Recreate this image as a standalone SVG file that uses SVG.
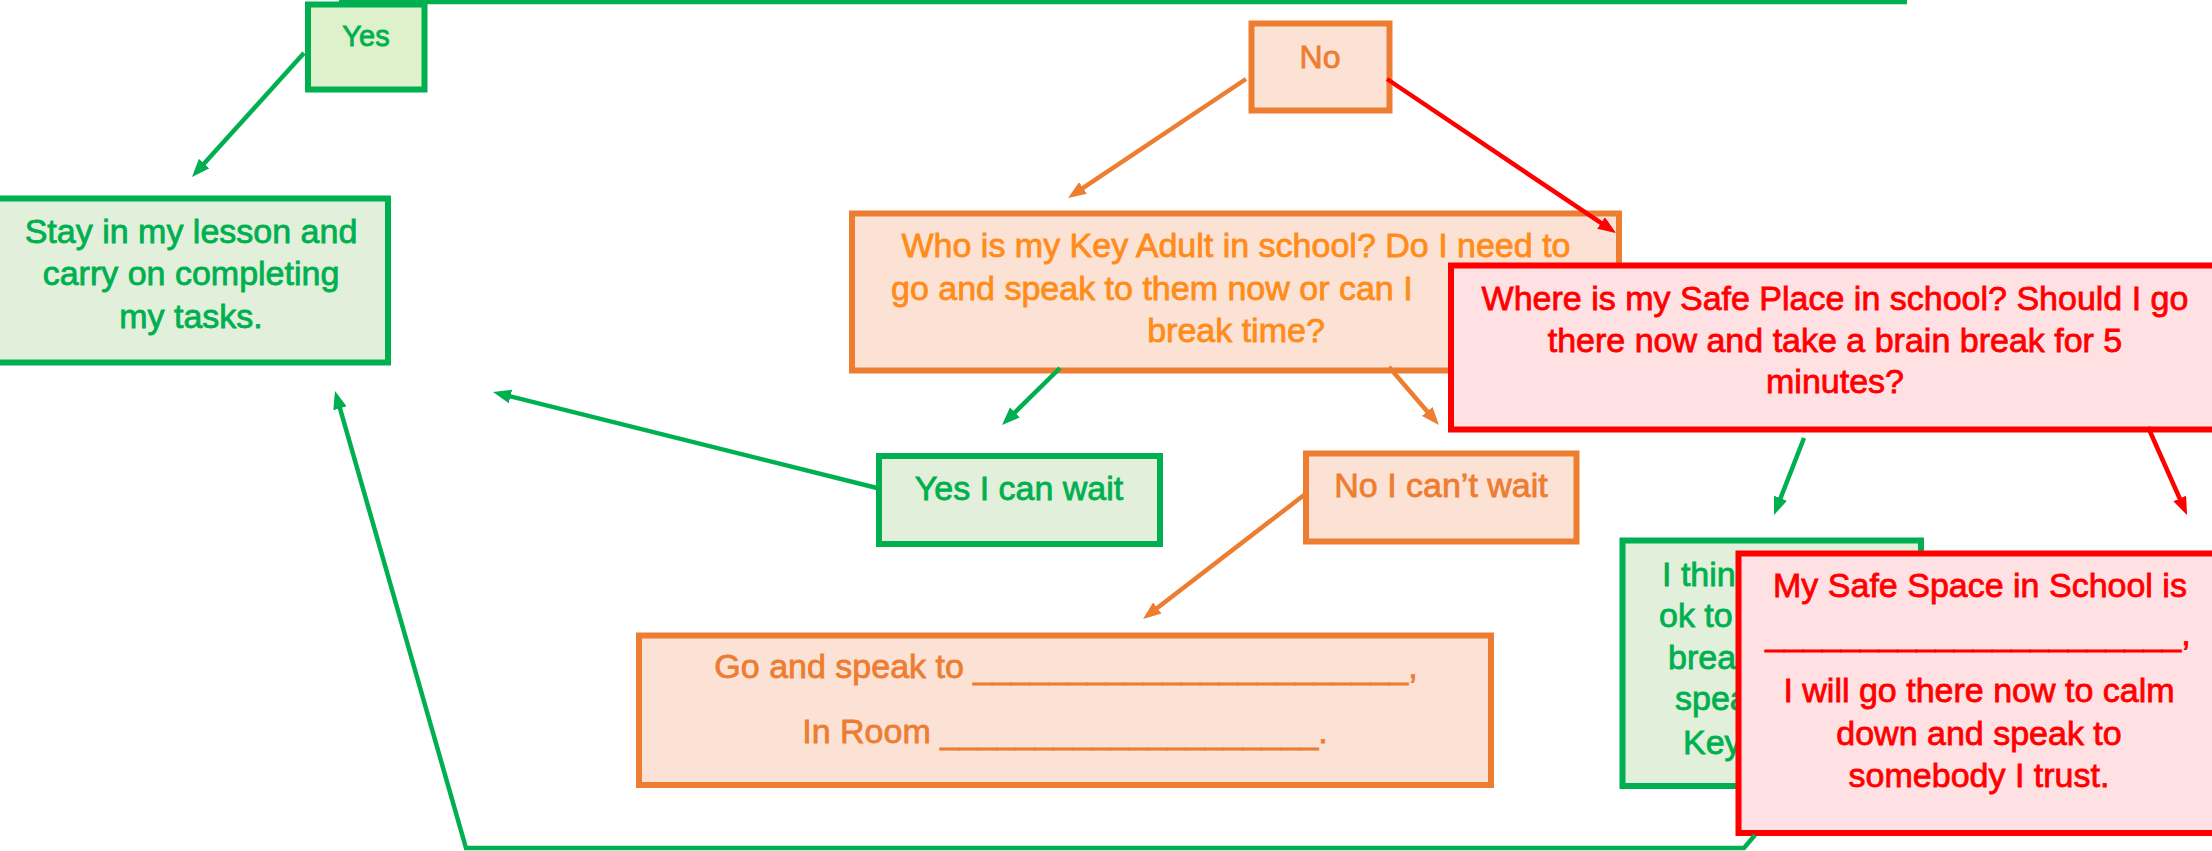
<svg xmlns="http://www.w3.org/2000/svg" width="2212" height="851" viewBox="0 0 2212 851">
<style>
text{font-family:"Liberation Sans",Arial,sans-serif;font-size:34px;stroke-width:0.8px}
.c{text-anchor:middle}
.g rect{fill:#E2EFDA;stroke:#00B050;stroke-width:6}
.g text{fill:#00B050;stroke:#00B050}
.o rect{fill:#FBE2D5;stroke:#ED7D31;stroke-width:6}
.o text{fill:#ED7D31;stroke:#ED7D31}
.o text.b{fill:#FF8C1A;stroke:#FF8C1A}
.r rect{fill:#FFE1E4;stroke:#FF0000;stroke-width:6}
.r text{fill:#FF0000;stroke:#FF0000}
#connectors line,#connectors polyline{fill:none;stroke-width:4.5}
.lg{stroke:#00B050}
.lo{stroke:#ED7D31}
.lr{stroke:#FF0000}
</style>
<defs>
<marker id="ag" markerUnits="userSpaceOnUse" viewBox="0 0 18 14" refX="12" refY="7" markerWidth="18" markerHeight="14" orient="auto"><path d="M0,0 L18,7 L0,14 z" fill="#00B050"/></marker>
<marker id="ao" markerUnits="userSpaceOnUse" viewBox="0 0 18 14" refX="12" refY="7" markerWidth="18" markerHeight="14" orient="auto"><path d="M0,0 L18,7 L0,14 z" fill="#ED7D31"/></marker>
<marker id="ar" markerUnits="userSpaceOnUse" viewBox="0 0 18 14" refX="12" refY="7" markerWidth="18" markerHeight="14" orient="auto"><path d="M0,0 L18,7 L0,14 z" fill="#FF0000"/></marker>
</defs>
<rect width="2212" height="851" fill="#FFFFFF"/>

<g id="yes" class="g">
<rect x="308" y="4.5" width="116.5" height="85" style="fill:#DDF1CB"/>
<text class="c" x="366" y="46" style="font-size:29px">Yes</text>
</g>

<g id="stay" class="g">
<rect x="-10" y="198.5" width="398" height="164"/>
<text class="c" x="191" y="243">Stay in my lesson and</text>
<text class="c" x="191" y="285">carry on completing</text>
<text class="c" x="191" y="328">my tasks.</text>
</g>

<g id="no" class="o">
<rect x="1251.5" y="23.5" width="138" height="87"/>
<text class="c" x="1320" y="68" style="font-size:32px">No</text>
</g>

<g id="key-adult" class="o">
<rect x="852" y="213.5" width="767" height="157"/>
<text class="c b" x="1236" y="257">Who is my Key Adult in school? Do I need to</text>
<text class="b" x="891" y="300">go and speak to them now or can I</text>
<text class="c b" x="1236" y="342">break time?</text>
</g>

<g id="yes-wait" class="g">
<rect x="879" y="456" width="281" height="88"/>
<text class="c" x="1019" y="500">Yes I can wait</text>
</g>

<g id="no-wait" class="o">
<rect x="1306" y="453.5" width="270.5" height="88"/>
<text class="c" x="1441" y="497">No I can’t wait</text>
</g>

<g id="go-speak" class="o">
<rect x="639" y="635.5" width="852" height="149.5"/>
<text class="c" x="1066" y="678">Go and speak to _______________________,</text>
<text class="c" x="1065" y="743">In Room ____________________.</text>
</g>

<g id="safe-place" class="r">
<rect x="1451" y="265.5" width="800" height="164"/>
<text class="c" x="1835" y="310">Where is my Safe Place in school? Should I go</text>
<text class="c" x="1835" y="352">there now and take a brain break for 5</text>
<text class="c" x="1835" y="393">minutes?</text>
</g>

<g id="ok-break" class="g">
<rect x="1622.5" y="540.5" width="298.5" height="245.5"/>
<text x="1662" y="586">I thin</text>
<text x="1659" y="627">ok to</text>
<text x="1668" y="669">brea</text>
<text x="1675" y="710">spea</text>
<text x="1683" y="754">Key</text>
</g>

<g id="safe-space" class="r">
<rect x="1738.5" y="553.5" width="600" height="279.5"/>
<text class="c" x="1980" y="597">My Safe Space in School is</text>
<text class="c" x="1978" y="645">______________________,</text>
<text class="c" x="1979" y="702">I will go there now to calm</text>
<text class="c" x="1979" y="745">down and speak to</text>
<text class="c" x="1979" y="787">somebody I trust.</text>
</g>

<g id="connectors">
<line class="lg" x1="339" y1="2" x2="1907" y2="2"/>
<line class="lg" x1="304" y1="53" x2="196" y2="172.5" marker-end="url(#ag)"/>
<line class="lo" x1="1246" y1="79" x2="1073" y2="194.7" marker-end="url(#ao)"/>
<line class="lr" x1="1387" y1="79" x2="1611" y2="229.7" marker-end="url(#ar)"/>
<line class="lg" x1="1060" y1="368" x2="1006.3" y2="420.8" marker-end="url(#ag)"/>
<line class="lo" x1="1389" y1="367" x2="1435" y2="420.5" marker-end="url(#ao)"/>
<line class="lg" x1="877" y1="488" x2="498.8" y2="393.5" marker-end="url(#ag)"/>
<line class="lo" x1="1308" y1="492" x2="1147.8" y2="615.3" marker-end="url(#ao)"/>
<line class="lg" x1="1804" y1="438" x2="1776.2" y2="509.4" marker-end="url(#ag)"/>
<line class="lr" x1="2148" y1="427" x2="2184.6" y2="509.5" marker-end="url(#ar)"/>
<polyline class="lg" points="1755,835 1744,848 466,848 336.7,396.8" marker-end="url(#ag)"/>
</g>
</svg>
